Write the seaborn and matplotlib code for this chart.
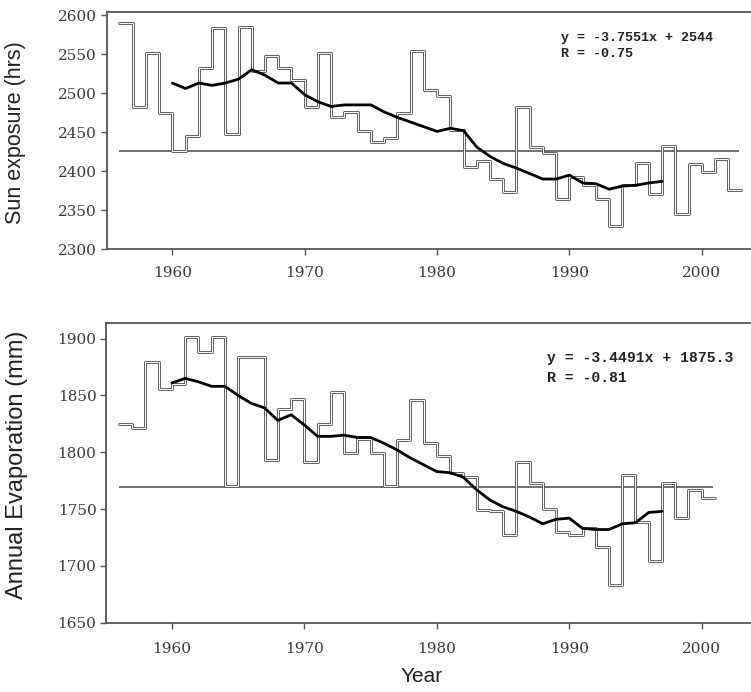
import matplotlib
matplotlib.use("Agg")
import matplotlib.pyplot as plt
import matplotlib.patheffects as pe
import numpy as np
import pandas as pd
import seaborn as sns

# ---------------- data ----------------
sun_years = list(range(1956, 2003))
sun_hours = [2590, 2482, 2551, 2475, 2426, 2445, 2532, 2584, 2448, 2585,
             2528, 2547, 2532, 2517, 2482, 2551, 2469, 2476, 2452, 2438,
             2443, 2475, 2554, 2504, 2496, 2453, 2405, 2413, 2390, 2374,
             2482, 2431, 2423, 2365, 2393, 2382, 2364, 2330, 2383, 2411,
             2371, 2432, 2345, 2409, 2399, 2416, 2376]
sun_smooth_years = list(range(1960, 1998))
sun_smooth = [2513, 2506, 2513, 2510, 2513, 2518, 2530, 2523, 2513, 2513,
              2498, 2489, 2483, 2485, 2485, 2485, 2476, 2469, 2463, 2457,
              2451, 2455, 2452, 2431, 2419, 2410, 2404, 2397, 2390, 2390,
              2395, 2385, 2384, 2377, 2381, 2382, 2385, 2387]
sun_mean = 2426
sun_eq = "y = -3.7551x + 2544"
sun_r = "R = -0.75"

evap_years = list(range(1956, 2001))
evap_mm = [1825, 1821, 1879, 1856, 1860, 1901, 1888, 1901, 1770, 1884,
           1884, 1793, 1838, 1847, 1791, 1825, 1853, 1799, 1812, 1799,
           1770, 1811, 1846, 1808, 1797, 1782, 1778, 1749, 1748, 1727,
           1791, 1773, 1750, 1730, 1727, 1733, 1717, 1683, 1780, 1739,
           1704, 1773, 1742, 1767, 1760]
evap_smooth_years = list(range(1960, 1998))
evap_smooth = [1861, 1865, 1862, 1858, 1858, 1850, 1843, 1839, 1828, 1833,
               1824, 1814, 1814, 1815, 1813, 1813, 1808, 1802, 1795, 1789,
               1783, 1782, 1778, 1767, 1758, 1752, 1748, 1743, 1737, 1741,
               1742, 1733, 1732, 1732, 1737, 1738, 1747, 1748]
evap_mean = 1769
evap_eq = "y = -3.4491x + 1875.3"
evap_r = "R = -0.81"

x_ticks = [1960, 1970, 1980, 1990, 2000]
sun_yticks = [2300, 2350, 2400, 2450, 2500, 2550, 2600]
evap_yticks = [1650, 1700, 1750, 1800, 1850, 1900]

# ---------------- style ----------------
sns.set_style("ticks")
plt.rcParams["font.family"] = ["DejaVu Serif"]

W, H = 751, 692
fig = plt.figure(figsize=(W / 100, H / 100), dpi=100)

def add_ax(left, top, bottom):
    return fig.add_axes([left / W, 1 - bottom / H, 1 - left / W, (bottom - top) / H])

ax1 = add_ax(106.7, 12, 249.3)
ax2 = add_ax(106.2, 322.7, 622.7)

STEP = "#5e5e5e"

def panel(ax, years, vals, syears, smooth, mean, ylim, yticks, eq, r, eqx, eqy1, eqy2,
          fs_eq, xpad):
    end = years[-1] + 1
    df = pd.DataFrame({"year": years + [end], "val": vals + [vals[-1]]})
    ax.hlines(mean, years[0], end - 0.15, color="#555555", lw=1.2, zorder=1)
    sns.lineplot(data=df, x="year", y="val", drawstyle="steps-post", color="white",
                 lw=0.7, ax=ax, zorder=2,
                 path_effects=[pe.Stroke(linewidth=2.1, foreground=STEP), pe.Normal()])
    sm = pd.DataFrame({"year": syears, "val": smooth})
    sns.lineplot(data=sm, x="year", y="val", color="black", lw=2.0, ax=ax, zorder=3)
    ax.set_xlim(1955.04, 2003.72)
    ax.set_ylim(*ylim)
    ax.set_xticks(x_ticks)
    ax.set_yticks(yticks)
    ax.set_xlabel("")
    ax.set_ylabel("")
    for s in ["left", "bottom", "top"]:
        ax.spines[s].set_color("#555555")
        ax.spines[s].set_linewidth(1.3)
    ax.spines["right"].set_visible(False)
    ax.tick_params(axis="both", direction="out", length=4, width=1.0, color="#555555",
                   labelsize=11, labelcolor="#3a3a3a")
    ax.tick_params(axis="y", pad=3)
    ax.tick_params(axis="x", pad=xpad)
    ax.text(eqx, eqy1, eq, ha="left", va="center", family="Liberation Mono",
            weight="bold", size=fs_eq, color="#222222")
    ax.text(eqx, eqy2, r, ha="left", va="center", family="Liberation Mono",
            weight="bold", size=fs_eq, color="#222222")

panel(ax1, sun_years, sun_hours, sun_smooth_years, sun_smooth, sun_mean,
      (2300, 2604), sun_yticks, sun_eq, sun_r, 1989.4, 2571, 2550, 9.6, 8)
panel(ax2, evap_years, evap_mm, evap_smooth_years, evap_smooth, evap_mean,
      (1650, 1914), evap_yticks, evap_eq, evap_r, 1988.3, 1883, 1865, 10.6, 10)

fig.text(16 / W, 1 - 133 / H, "Sun exposure (hrs)", rotation=90, ha="center", va="center",
         family="Liberation Sans", size=15.5, color="#222222")
fig.text(17 / W, 1 - 465 / H, "Annual Evaporation (mm)", rotation=90, ha="center", va="center",
         family="Liberation Sans", size=17, color="#222222")
fig.text(422 / W, 1 - 676 / H, "Year", ha="center", va="center",
         family="Liberation Sans", size=15, color="#222222")

fig.savefig("out.png", dpi=100)
